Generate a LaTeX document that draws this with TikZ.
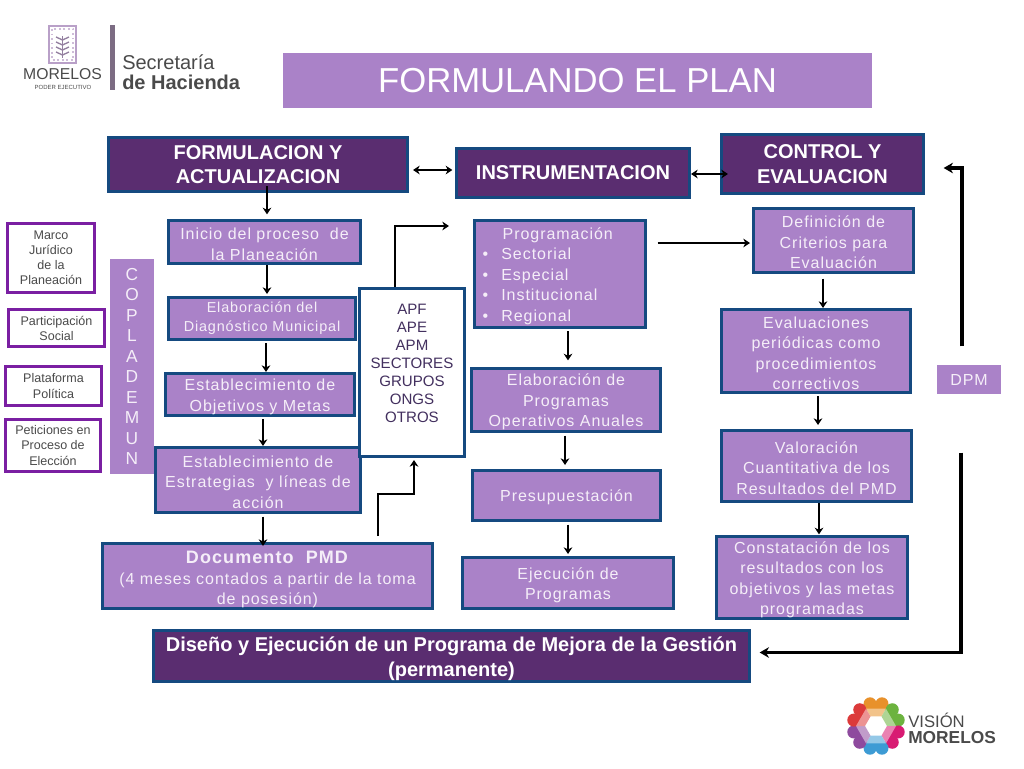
\documentclass[tikz,border=0pt]{standalone}
\usepackage{fontspec}
\setmainfont{Liberation Sans}
\newfontfamily\abierta[LetterSpace=6]{Liberation Sans}
\usetikzlibrary{arrows.meta}
\definecolor{morado}{HTML}{5A2D70}
\definecolor{lila}{HTML}{AA82C8}
\definecolor{azulborde}{HTML}{154A80}
\definecolor{violeta}{HTML}{7A1FA2}
\definecolor{textoclaro}{HTML}{F5EEF8}
\definecolor{textoapf}{HTML}{43305F}
\definecolor{gris}{HTML}{4A4A4A}
\definecolor{escudo}{HTML}{B9A0C8}
\newcommand{\alto}{\rule{0pt}{1em}}
\tikzset{
    medida/.style 2 args={minimum width=#1*0.75pt-2pt, minimum height=#2*0.75pt-2pt},
    oscura/.style={draw=azulborde, line width=2pt, fill=morado, text=white, inner sep=0pt, align=center, font=\fontsize{15}{18.5}\selectfont\bfseries},
    clara/.style={draw=azulborde, line width=2pt, fill=lila, text=textoclaro, inner sep=0pt, align=center, font=\abierta\fontsize{12}{15.4}\selectfont},
    lateral/.style={draw=violeta, line width=2pt, fill=white, text=gris, inner sep=0pt, align=center, font=\fontsize{9.4}{11.3}\selectfont},
    plana/.style={fill=lila, text=textoclaro, inner sep=0pt, align=center},
    flecha/.style={-{Stealth[length=5pt,width=6.5pt]}, line width=2.2pt, black},
    doble/.style={{Stealth[length=5pt,width=6.5pt]}-{Stealth[length=5pt,width=6.5pt]}, line width=2pt, black},
    larga/.style={-{Stealth[length=7pt,width=8pt]}, line width=2.5pt, black},
    logo/.style={inner sep=0pt, text=gris}
}
\begin{document}
\begin{tikzpicture}[x=0.75pt,y=-0.75pt]
    \useasboundingbox (0,0) rectangle (1024,768);

    %logo secretaria
    \draw[escudo, line width=1.6pt] (49,26) rectangle (76,63);
    \draw[escudo!70, line width=1.4pt, dotted] (52,29) rectangle (73,60);
    \draw[escudo!80!black, line width=1.3pt] (62.5,36) -- (62.5,58);
    \foreach \alt in {40,45,50,55}{
        \draw[escudo!80!black, line width=1pt] (56,\alt-3) -- (62.5,\alt) -- (69,\alt-3);
    }
    \fill[black!70!violeta!60] (110,25) rectangle (115,90);
    \node[logo, font=\fontsize{11.8}{13}\selectfont] (morelosa) at (62.5,74.5) {MORELOS};
    \node[logo, font=\fontsize{4.5}{5}\selectfont] (poder) at (63,87) {PODER EJECUTIVO};
    \node[logo, anchor=west, font=\fontsize{15}{17}\selectfont] (secre) at (122,62) {Secretaría};
    \node[logo, anchor=west, font=\fontsize{15}{17}\selectfont\bfseries] (hacienda) at (122,82) {de Hacienda};

    %titulo
    \node[plana, medida={591}{57}, font=\fontsize{26}{30}\selectfont, text=white] (titulo) at (577.5,80.5) {FORMULANDO EL PLAN};

    %encabezados
    \node[oscura, medida={302}{57}] (formul) at (258,164.5) {FORMULACION Y\\ACTUALIZACION};
    \node[oscura, medida={236}{52}] (instru) at (573,173) {INSTRUMENTACION};
    \node[oscura, medida={205}{62}] (control) at (822.5,164) {CONTROL Y\\EVALUACION};

    %columna izquierda
    \node[lateral, medida={90}{72}] (marco) at (51,258) {Marco\\Jurídico\\de la\\Planeación};
    \node[lateral, medida={99}{40}] (partic) at (56.5,328) {Participación\\Social};
    \node[lateral, medida={99}{42}] (plataf) at (53.5,386) {Plataforma\\Política};
    \node[lateral, medida={98}{55}] (petic) at (53,445.5) {Peticiones en\\Proceso de\\Elección};
    \node[plana, medida={46}{217}, font=\fontsize{13}{15.4}\selectfont] (coplade) at (132,366.5) {C\\O\\P\\L\\A\\D\\E\\M\\U\\N};

    %formulacion
    \node[clara, medida={195}{46}] (inicio) at (264.5,242) {\alto Inicio del proceso~ de\\la Planeación};
    \node[clara, medida={190}{45}, font=\abierta\fontsize{10.8}{14.3}\selectfont] (diagnos) at (262,318.5) {Elaboración del\\Diagnóstico Municipal};
    \node[clara, medida={192}{45}] (objet) at (260,394.5) {\alto Establecimiento de\\Objetivos y Metas};
    \node[clara, medida={208}{68}] (estrat) at (258,480) {\alto Establecimiento de\\Estrategias~ y líneas de\\acción};
    \node[clara, medida={333}{68}] (docum) at (267.5,576) {\rule{0pt}{15pt}{\fontsize{13.5}{15.4}\selectfont\textbf{Documento~ PMD}}\\(4 meses contados a partir de la toma\\de posesión)};
    \node[oscura, medida={599}{54}] (diseno) at (451.5,656) {\rule{0pt}{15.5pt}Diseño y Ejecución de un Programa de Mejora de la Gestión\\(permanente)};

    %apf
    \node[draw=azulborde, line width=2pt, fill=white, text=textoapf, inner sep=0pt, align=center, medida={108}{171}, font=\fontsize{11.3}{13.5}\selectfont] (apf) at (412,372.5) {APF\\APE\\APM\\SECTORES\\GRUPOS\\ONGS\\OTROS\\\mbox{}};

    %instrumentacion
    \node[clara, medida={174}{110}, text width=120pt, align=left] (progr) at (560,274) {\alto\hspace*{17pt}Programación\\\hspace*{2pt}\makebox[14pt][l]{•}Sectorial\\\hspace*{2pt}\makebox[14pt][l]{•}Especial\\\hspace*{2pt}\makebox[14pt][l]{•}Institucional\\\hspace*{2pt}\makebox[14pt][l]{•}Regional};
    \node[clara, medida={192}{66}] (operat) at (566,400) {\alto Elaboración de\\Programas\\Operativos Anuales};
    \node[clara, medida={191}{53}] (presup) at (566.5,495.5) {\alto Presupuestación};
    \node[clara, medida={214}{54}] (ejecuc) at (568,583) {\alto Ejecución de\\Programas};

    %control
    \node[clara, medida={163}{67}] (defin) at (833.5,240.5) {\alto Definición de\\Criterios para\\Evaluación};
    \node[clara, medida={192}{86}] (evalu) at (816,351) {\alto Evaluaciones\\periódicas como\\procedimientos\\correctivos};
    \node[clara, medida={193}{74}] (valor) at (816.5,466) {\alto Valoración\\Cuantitativa de los\\Resultados del PMD};
    \node[clara, medida={194}{85}] (consta) at (812,577.5) {\alto Constatación de los\\resultados con los\\objetivos y las metas\\programadas};
    \node[plana, medida={66}{31}, font=\abierta\fontsize{12}{13}\selectfont] (dpm) at (969,379.5) {DPM};

    %flechas entre encabezados
    \draw[doble, shorten <=3pt, shorten >=2pt] (formul.east |- 0,170) -- (instru.west |- 0,170);
    \draw[doble, shorten >=-6pt] (instru.east |- 0,174) -- (control.west |- 0,174);

    %flechas verticales
    \draw[flecha, shorten <=-5pt, shorten >=3.5pt] (formul.south -| 267,0) -- (inicio.north -| 267,0);
    \draw[flecha, shorten >=1.5pt] (inicio.south -| 267,0) -- (diagnos.north -| 267,0);
    \draw[flecha, shorten <=1.5pt] (diagnos.south -| 266,0) -- (objet.north -| 266,0);
    \draw[flecha, shorten <=1.5pt] (objet.south -| 263,0) -- (estrat.north -| 263,0);
    \draw[flecha, shorten <=2pt, shorten >=-3pt] (estrat.south -| 263,0) -- (docum.north -| 263,0);
    \draw[flecha, shorten <=1.5pt, shorten >=5pt] (progr.south -| 568,0) -- (operat.north -| 568,0);
    \draw[flecha, shorten <=2pt, shorten >=3pt] (operat.south -| 565,0) -- (presup.north -| 565,0);
    \draw[flecha, shorten <=2pt, shorten >=1.5pt] (presup.south -| 568,0) -- (ejecuc.north -| 568,0);
    \draw[flecha, shorten <=3.5pt] (defin.south -| 823,0) -- (evalu.north -| 823,0);
    \draw[flecha, shorten <=1.5pt, shorten >=3pt] (evalu.south -| 818,0) -- (valor.north -| 818,0);
    \draw[flecha, shorten >=0.5pt] (valor.south -| 819,0) -- (consta.north -| 819,0);

    %flechas con quiebre
    \draw[flecha, shorten <=4.5pt, shorten >=1.5pt] (docum.north -| 378,0) -- (378,494) -| (apf.south -| 414,0);
    \draw[flecha, shorten >=18pt] (apf.north -| 395,0) |- (progr.west |- 0,226);
    \draw[flecha, shorten <=8pt, shorten >=1.5pt] (progr.east |- 0,243) -- (defin.west |- 0,243);
    \draw[larga, shorten <=14pt, shorten >=14pt] (dpm.north -| 962,0) |- (control.east |- 0,168);
    \draw[larga, shorten <=44pt, shorten >=6.5pt] (dpm.south -| 961,0) |- (diseno.east |- 0,652.5);

    %logo vision
    \foreach \ang/\col in {90/E8912B,30/6CB33F,-30/D81B73,-90/3D9BD4,-150/8E4A9E,150/DC3A3A}{
        \definecolor{tono}{HTML}{\col}
        \fill[tono] ({876+19*cos(\ang+30)},{726-19*sin(\ang+30)}) -- ({876+25*cos(\ang+30)},{726-25*sin(\ang+30)}) -- ({876+25*cos(\ang-30)},{726-25*sin(\ang-30)}) -- ({876+19*cos(\ang-30)},{726-19*sin(\ang-30)}) -- cycle;
        \fill[tono] ({876+23*cos(\ang+15)},{726-23*sin(\ang+15)}) circle (6.5);
        \fill[tono] ({876+23*cos(\ang-15)},{726-23*sin(\ang-15)}) circle (6.5);
        \fill[tono!55] ({876+11*cos(\ang+30)},{726-11*sin(\ang+30)}) -- ({876+20*cos(\ang+30)},{726-20*sin(\ang+30)}) -- ({876+20*cos(\ang-30)},{726-20*sin(\ang-30)}) -- ({876+11*cos(\ang-30)},{726-11*sin(\ang-30)}) -- cycle;
    }
    \node[logo, anchor=west, font=\fontsize{12.5}{13}\selectfont] (vision) at (908,720) {VISIÓN};
    \node[logo, anchor=west, font=\fontsize{13}{13}\selectfont\bfseries] (morelosb) at (908,738) {MORELOS};
\end{tikzpicture}
\end{document}
